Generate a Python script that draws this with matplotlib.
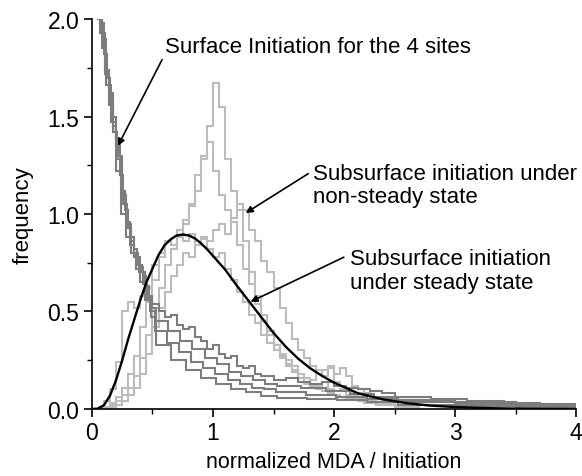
import numpy as np
import matplotlib
matplotlib.use("Agg")
import matplotlib.pyplot as plt
from matplotlib.ticker import MultipleLocator, FormatStrFormatter

plt.rcParams['font.family'] = ['Liberation Sans', 'DejaVu Sans']

# ---- Surface initiation histograms (4 sites): bin edges and heights ----
surf1_edges = [0.025, 0.05, 0.075, 0.1, 0.125, 0.15, 0.175, 0.2, 0.225, 0.25, 0.275, 0.3,
               0.325, 0.35, 0.375, 0.4, 0.425, 0.45, 0.475, 0.5,
               0.55, 0.6, 0.65, 0.7, 0.75, 0.8, 0.85, 0.9, 0.95, 1.0, 1.05, 1.1, 1.15, 1.2,
               1.25, 1.3, 1.35, 1.4, 1.45, 1.5,
               1.6, 1.7, 1.8, 1.9, 2.0, 2.1, 2.2, 2.3, 2.4, 2.5,
               2.8, 3.1, 3.4, 3.7, 4.0]
surf1_heights = [2.3, 2.05, 1.98, 1.82, 1.70, 1.62, 1.50, 1.38, 1.30, 1.12, 1.02, 0.93,
                 0.88, 0.82, 0.78, 0.73, 0.68, 0.62, 0.56,
                 0.54, 0.50, 0.47, 0.48, 0.43, 0.41, 0.42, 0.37, 0.35, 0.31, 0.33, 0.28, 0.26, 0.27,
                 0.22, 0.21, 0.22, 0.18, 0.17, 0.17,
                 0.15, 0.16, 0.14, 0.13, 0.14, 0.12, 0.11, 0.10, 0.09, 0.08,
                 0.06, 0.05, 0.04, 0.03, 0.025]

surf2_edges = [0.02, 0.05, 0.08, 0.11, 0.14, 0.17, 0.2, 0.23, 0.26, 0.29, 0.32, 0.35, 0.38,
               0.41, 0.44, 0.47, 0.5, 0.53,
               0.63, 0.73, 0.83, 0.93, 1.03, 1.13, 1.23, 1.33, 1.43, 1.53,
               1.73, 1.93, 2.13, 2.33, 2.53,
               3.0, 3.5, 4.0]
surf2_heights = [2.4, 2.0, 1.85, 1.72, 1.58, 1.45, 1.36, 1.20, 1.05, 0.95, 0.86, 0.80,
                 0.74, 0.70, 0.63, 0.58, 0.52,
                 0.45, 0.40, 0.35, 0.31, 0.26, 0.23, 0.19, 0.17, 0.15, 0.13,
                 0.12, 0.11, 0.09, 0.075, 0.06,
                 0.045, 0.035, 0.02]

surf3_edges = [0.04, 0.08, 0.12, 0.16, 0.2, 0.24, 0.28, 0.32, 0.36, 0.4, 0.44, 0.48, 0.52,
               0.62, 0.72, 0.82, 0.92, 1.02, 1.12, 1.22, 1.32, 1.42, 1.52,
               1.77, 2.02, 2.27, 2.52,
               3.0, 3.5, 4.0]
surf3_heights = [2.2, 1.90, 1.66, 1.47, 1.22, 1.0, 0.88, 0.80, 0.72, 0.65, 0.56, 0.50,
                 0.40, 0.34, 0.29, 0.24, 0.21, 0.18, 0.15, 0.13, 0.11, 0.10,
                 0.085, 0.07, 0.06, 0.05,
                 0.035, 0.025, 0.02]

surf4_edges = [0.035, 0.07, 0.105, 0.14, 0.175, 0.21, 0.245, 0.28, 0.315, 0.35, 0.385,
               0.42, 0.455, 0.49, 0.525,
               0.65, 0.775, 0.9, 1.025, 1.15, 1.275, 1.4, 1.525,
               1.775, 2.025, 2.275, 2.525,
               3.0, 3.5, 4.0]
surf4_heights = [2.1, 1.93, 1.74, 1.56, 1.42, 1.28, 1.10, 0.96, 0.84, 0.78, 0.70, 0.64, 0.57, 0.47,
                 0.33, 0.25, 0.20, 0.16, 0.13, 0.10, 0.085, 0.065,
                 0.055, 0.05, 0.045, 0.035,
                 0.02, 0.015, 0.01]

# ---- Subsurface initiation, non-steady state: 0.05-wide bins from 0.05 to 2.75 ----
sub_bin_start = 0.05
sub_bin_width = 0.05
subA = [0.00, 0.01, 0.02, 0.04, 0.07, 0.11, 0.17, 0.26, 0.38, 0.52,
        0.62, 0.74, 0.82, 0.88, 0.95, 1.04, 1.20, 1.30, 1.45, 1.67,
        1.55, 1.28, 1.12, 1.02, 0.86, 0.70, 0.58, 0.48, 0.40, 0.33,
        0.27, 0.22, 0.19, 0.16, 0.13, 0.15, 0.20, 0.17, 0.21, 0.14,
        0.12, 0.09, 0.07, 0.08, 0.05, 0.04, 0.06, 0.03, 0.02, 0.02,
        0.01, 0.01, 0.00, 0.00]
subB = [0.00, 0.01, 0.03, 0.06, 0.11, 0.18, 0.27, 0.42, 0.55, 0.66,
        0.78, 0.86, 0.84, 0.92, 0.97, 1.05, 1.12, 1.28, 1.37, 1.22,
        1.10, 1.02, 0.96, 0.84, 0.72, 0.64, 0.54, 0.45, 0.38, 0.33,
        0.28, 0.25, 0.22, 0.18, 0.16, 0.13, 0.12, 0.14, 0.10, 0.09,
        0.10, 0.07, 0.06, 0.05, 0.04, 0.04, 0.03, 0.02, 0.02, 0.01,
        0.01, 0.00, 0.00, 0.00]
subC = [0.00, 0.00, 0.01, 0.02, 0.04, 0.07, 0.11, 0.18, 0.28, 0.42,
        0.52, 0.60, 0.68, 0.74, 0.80, 0.78, 0.84, 0.88, 0.86, 0.92,
        0.95, 0.90, 0.98, 1.05, 1.02, 0.92, 0.86, 0.76, 0.70, 0.62,
        0.52, 0.44, 0.36, 0.30, 0.26, 0.22, 0.18, 0.20, 0.22, 0.18,
        0.21, 0.17, 0.12, 0.10, 0.08, 0.06, 0.05, 0.04, 0.03, 0.02,
        0.02, 0.01, 0.01, 0.00]
subD = [0.01, 0.04, 0.10, 0.24, 0.50, 0.55, 0.52, 0.58, 0.62, 0.74,
        0.80, 0.86, 0.84, 0.88, 0.86, 0.90, 0.84, 0.87, 0.82, 0.78,
        0.80, 0.72, 0.66, 0.60, 0.55, 0.48, 0.44, 0.38, 0.34, 0.30,
        0.26, 0.23, 0.20, 0.16, 0.14, 0.12, 0.10, 0.09, 0.08, 0.07,
        0.06, 0.05, 0.05, 0.04, 0.03, 0.03, 0.02, 0.02, 0.02, 0.01,
        0.01, 0.01, 0.00, 0.00]

# ---- Subsurface initiation, steady state: fitted density curve ----
steady_x = [0.0, 0.05, 0.1, 0.15, 0.2, 0.25, 0.3, 0.35, 0.4, 0.45, 0.5, 0.55, 0.6, 0.65,
            0.7, 0.75, 0.8, 0.85, 0.9, 0.95, 1.0, 1.1, 1.2, 1.3, 1.4, 1.5, 1.6, 1.7,
            1.8, 1.9, 2.0, 2.2, 2.4, 2.6, 2.8, 3.0, 3.3, 3.6, 4.0]
steady_y = [0.0, 0.002, 0.02, 0.07, 0.15, 0.25, 0.36, 0.46, 0.56, 0.65, 0.72, 0.79, 0.84, 0.87,
            0.89, 0.895, 0.89, 0.875, 0.85, 0.82, 0.785, 0.715, 0.63, 0.55, 0.47, 0.39, 0.32, 0.26,
            0.21, 0.17, 0.135, 0.08, 0.05, 0.03, 0.017, 0.01, 0.004, 0.001, 0.0]

x_ticks = [0, 1, 2, 3, 4]
y_ticks = [0.0, 0.5, 1.0, 1.5, 2.0]

DARK = '#7d7d7d'
LIGHT = '#bcbcbc'

fig = plt.figure(figsize=(5.82, 4.77), dpi=100)
ax = fig.add_axes([0.158, 0.1405, 0.832, 0.8175])

sub_edges = np.round(sub_bin_start + sub_bin_width * np.arange(len(subA) + 1), 3)
for h in (subD, subC, subB, subA):
    ax.stairs(h, sub_edges, color=LIGHT, linewidth=1.5, baseline=None)

for e, h in ((surf1_edges, surf1_heights), (surf2_edges, surf2_heights),
             (surf3_edges, surf3_heights), (surf4_edges, surf4_heights)):
    ax.stairs(h, e, color=DARK, linewidth=1.5, baseline=None)

ax.plot(steady_x, steady_y, color='black', linewidth=1.7)

ax.set_xlim(0, 4)
ax.set_ylim(0, 2.0)
ax.set_xticks(x_ticks)
ax.set_yticks(y_ticks)
ax.xaxis.set_minor_locator(MultipleLocator(0.5))
ax.yaxis.set_minor_locator(MultipleLocator(0.25))
ax.yaxis.set_major_formatter(FormatStrFormatter('%.1f'))
ax.spines['top'].set_visible(False)
ax.spines['right'].set_visible(False)
for s in ('left', 'bottom'):
    ax.spines[s].set_linewidth(1.2)
ax.tick_params(which='major', direction='out', length=6, width=1.2, labelsize=16.5, pad=3)
ax.tick_params(which='minor', direction='out', length=3.5, width=1.0)
ax.set_xlabel('normalized MDA / Initiation', fontsize=15.5, labelpad=5)
ax.set_ylabel('frequency', fontsize=16, labelpad=10)

arrow = dict(arrowstyle='-|>', color='black', linewidth=1.2, mutation_scale=10,
             shrinkA=0, shrinkB=0)
ax.annotate('Surface Initiation for the 4 sites', xy=(0.215, 1.35), xytext=(0.6, 1.86),
            fontsize=16, va='center', ha='left', arrowprops=dict(arrow, relpos=(0, 0.1)))
ax.annotate('Subsurface initiation under\nnon-steady state', xy=(1.27, 1.005),
            xytext=(1.83, 1.15), fontsize=16, va='center', ha='left', linespacing=1.15,
            arrowprops=dict(arrow, relpos=(-0.02, 0.75)))
ax.annotate('Subsurface initiation\nunder steady state', xy=(1.31, 0.55),
            xytext=(2.13, 0.71), fontsize=16, va='center', ha='left', linespacing=1.15,
            arrowprops=dict(arrow, relpos=(-0.03, 0.8)))

fig.savefig('out.png', dpi=100)
